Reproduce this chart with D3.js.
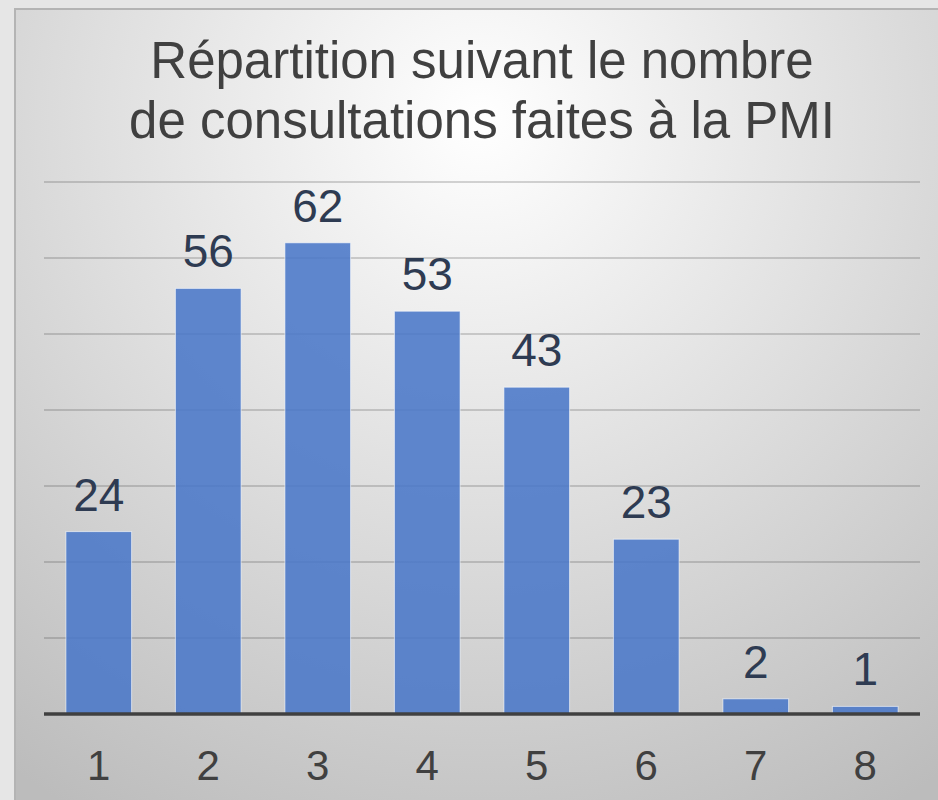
<!DOCTYPE html>
<html>
<head>
<meta charset="utf-8">
<script src="https://cdn.jsdelivr.net/npm/d3@7"></script>
<style>
  body { margin: 0; background: #e6e6e6; }
  svg { display: block; }
</style>
</head>
<body>
<script>
// Data
var categories = ["1", "2", "3", "4", "5", "6", "7", "8"];
var values = [24, 56, 62, 53, 43, 23, 2, 1];
var yTicks = [0, 10, 20, 30, 40, 50, 60, 70];
var titleLines = ["Répartition suivant le nombre", "de consultations faites à la PMI"];

var width = 938, height = 800;
var plot = { left: 44, right: 920, top: 182, bottom: 714 };

var svg = d3.select("body").append("svg")
    .attr("width", width)
    .attr("height", height);

// radial background for the panel
var defs = svg.append("defs");
var grad = defs.append("radialGradient")
    .attr("id", "bg")
    .attr("gradientUnits", "userSpaceOnUse")
    .attr("cx", 480).attr("cy", 120).attr("r", 800);
grad.append("stop").attr("offset", "0%").style("stop-color", "#ffffff");
grad.append("stop").attr("offset", "100%").style("stop-color", "#bcbcbc");

svg.append("rect")
    .attr("x", 14).attr("y", 8)
    .attr("width", width - 14).attr("height", height - 8)
    .style("fill", "url(#bg)");

// panel border (left and top only visible)
svg.append("path")
    .attr("d", "M15," + height + "V9H" + width)
    .style("fill", "none")
    .style("stroke", "#b4b4b4")
    .style("stroke-width", 2);

// Scales
var x = d3.scaleBand()
    .domain(categories)
    .range([plot.left, plot.right])
    .paddingInner(0.4)
    .paddingOuter(0.2);

var y = d3.scaleLinear()
    .domain([0, 70])
    .range([plot.bottom, plot.top]);

// Gridlines
svg.append("g")
    .selectAll("line")
    .data(yTicks.slice(1))
    .enter()
    .append("line")
    .attr("x1", plot.left)
    .attr("x2", plot.right)
    .attr("y1", function(d) { return y(d); })
    .attr("y2", function(d) { return y(d); })
    .style("stroke", "rgba(70,70,70,0.3)")
    .style("stroke-width", 1.5);

// Bars
svg.append("g")
    .selectAll("rect")
    .data(values)
    .enter()
    .append("rect")
    .attr("x", function(d, i) { return x(categories[i]); })
    .attr("y", function(d) { return y(d); })
    .attr("width", x.bandwidth())
    .attr("height", function(d) { return y(0) - y(d); })
    .style("fill", "#4a78c8")
    .style("fill-opacity", 0.88)
    .style("stroke", "rgba(255,255,255,0.6)")
    .style("stroke-width", 1);

// Value labels
svg.append("g")
    .selectAll("text")
    .data(values)
    .enter()
    .append("text")
    .attr("x", function(d, i) { return x(categories[i]) + x.bandwidth() / 2; })
    .attr("y", function(d) { return y(d) - 21; })
    .attr("text-anchor", "middle")
    .style("font-family", "'Liberation Sans', Arial, sans-serif")
    .style("font-size", "46px")
    .style("fill", "#2e3b52")
    .text(function(d) { return d; });

// X axis
var xAxis = svg.append("g")
    .attr("transform", "translate(0," + plot.bottom + ")")
    .call(d3.axisBottom(x).tickSize(0).tickPadding(0));
xAxis.select(".domain")
    .attr("d", "M" + plot.left + ",0H" + plot.right)
    .style("stroke", "#404040")
    .style("stroke-width", 3.5);
xAxis.selectAll("text")
    .attr("y", 66)
    .attr("dy", null)
    .style("font-family", "'Liberation Sans', Arial, sans-serif")
    .style("font-size", "42px")
    .style("fill", "#404040");

// Title
svg.append("g")
    .selectAll("text")
    .data(titleLines)
    .enter()
    .append("text")
    .attr("x", (plot.left + plot.right) / 2)
    .attr("y", function(d, i) { return 78 + i * 60; })
    .attr("text-anchor", "middle")
    .style("font-family", "'Liberation Sans', Arial, sans-serif")
    .style("font-size", "51px")
    .style("fill", "#404040")
    .text(function(d) { return d; });
</script>
</body>
</html>
